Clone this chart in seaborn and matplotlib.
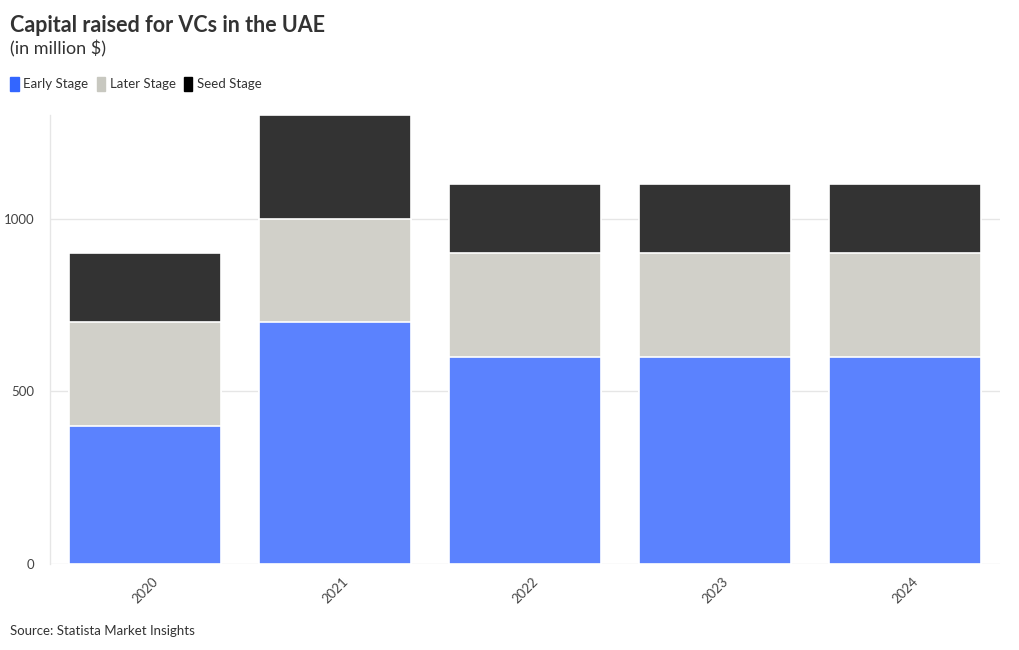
import matplotlib
matplotlib.use("Agg")
import matplotlib.pyplot as plt
import seaborn as sns
import pandas as pd
import numpy as np
from matplotlib.patches import Patch

years = ["2020", "2021", "2022", "2023", "2024"]
early = [400, 700, 600, 600, 600]
later = [300, 300, 300, 300, 300]
seed = [200, 300, 200, 200, 200]
series_names = ["Early Stage", "Later Stage", "Seed Stage"]
yticks = [0, 500, 1000]

sns.set_theme(style="white")
plt.rcParams['font.family'] = ['Lato', 'DejaVu Sans']

c_early = "#5b82fe"
c_later = "#d1d0c9"
c_seed = "#333333"
leg_cols = ["#3366ff", "#c8c8c0", "#000000"]

fig = plt.figure(figsize=(10.2, 6.5), dpi=100)
ax = fig.add_axes([50/1020, (650-564)/650, 950/1020, (564-115)/650])

e = np.array(early)
l = np.array(later)
s = np.array(seed)
df = pd.DataFrame({"year": years, "total": e + l + s, "el": e + l, "e": e})

for col, c in [("total", c_seed), ("el", c_later), ("e", c_early)]:
    sns.barplot(data=df, x="year", y=col, color=c, width=0.8, ax=ax,
                edgecolor="white", linewidth=1.2, saturation=1)

ax.set_xlim(-0.5, 4.5)
ax.set_ylim(0, 1300)
ax.set_yticks(yticks)
ax.set_yticklabels([str(v) for v in yticks])
ax.set_xlabel("")
ax.set_ylabel("")
for sp in ["top", "right", "bottom"]:
    ax.spines[sp].set_visible(False)
ax.spines["left"].set_color("#e6e6e6")
ax.spines["left"].set_linewidth(1)
ax.set_axisbelow(True)
ax.yaxis.grid(True, color="#e6e6e6", linewidth=1)
ax.tick_params(axis="y", length=0, labelsize=9.5, labelcolor="#444444", pad=11)
ax.tick_params(axis="x", length=0, labelsize=9.5, labelcolor="#444444", pad=8)
for lab in ax.get_xticklabels():
    lab.set_rotation(45)
    lab.set_ha("center")
    lab.set_va("top")
    lab.set_rotation_mode("default")

fig.text(10/1020, 1 - 25/650, "Capital raised for VCs in the UAE", fontsize=15.5,
         fontweight="bold", color="#333333", va="center", ha="left")
fig.text(10/1020, 1 - 49/650, "(in million $)", fontsize=13, color="#333333",
         va="center", ha="left")

handles = [Patch(facecolor=c, edgecolor=c, label=n) for c, n in zip(leg_cols, series_names)]
leg = fig.legend(handles=handles, loc="center left", bbox_to_anchor=(5/1020, 1 - 84/650),
                 ncol=3, frameon=False, fontsize=9.5, handlelength=0.65, handleheight=1.2,
                 handletextpad=0.35, columnspacing=0.6, borderaxespad=0)
for t in leg.get_texts():
    t.set_color("#333333")

fig.text(10/1020, 1 - 631/650, "Source: Statista Market Insights", fontsize=9.5,
         color="#333333", va="center", ha="left")

fig.savefig("out.png", dpi=100)
